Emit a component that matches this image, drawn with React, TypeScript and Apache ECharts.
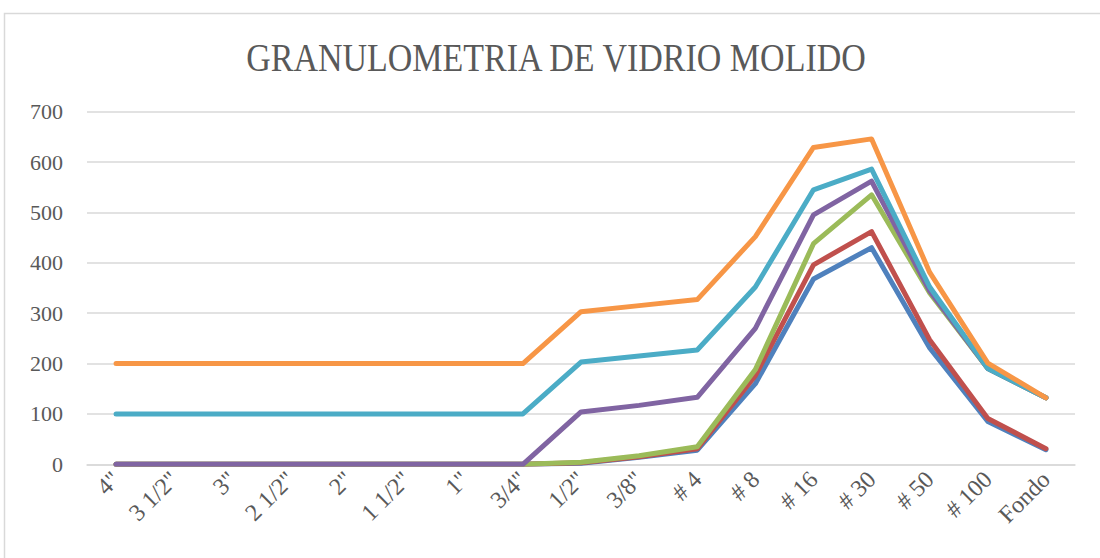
import React, { useEffect, useRef } from "react";
import * as echarts from "echarts";

const categories = ['4"', '3 1/2"', '3"', '2 1/2"', '2"', '1 1/2"', '1"', '3/4"', '1/2"', '3/8"', '# 4', '# 8', '# 16', '# 30', '# 50', '# 100', 'Fondo'];

const serie1 = [0, 0, 0, 0, 0, 0, 0, 0, 2, 14, 28, 160, 368, 430, 231, 85, 29];
const serie2 = [0, 0, 0, 0, 0, 0, 0, 0, 3, 15, 31, 176, 396, 462, 247, 91, 31];
const serie3 = [0, 0, 0, 0, 0, 0, 0, 0, 4, 17, 35, 188, 438, 535, 340, 190, 132];
const serie4 = [0, 0, 0, 0, 0, 0, 0, 0, 104, 117, 133, 270, 495, 562, 344, 190, 132];
const serie5 = [100, 100, 100, 100, 100, 100, 100, 100, 203, 215, 227, 352, 545, 586, 352, 190, 132];
const serie6 = [200, 200, 200, 200, 200, 200, 200, 200, 303, 315, 327, 452, 629, 646, 381, 201, 132];

const seriesNames = ["Serie 1", "Serie 2", "Serie 3", "Serie 4", "Serie 5", "Serie 6"];
const seriesData = [serie1, serie2, serie3, serie4, serie5, serie6];
const colors = ["#4F81BD", "#C0504D", "#9BBB59", "#8064A2", "#4BACC6", "#F79646"];

const yTicks = { min: 0, max: 700, interval: 100 };
const titleText = "GRANULOMETRIA DE VIDRIO MOLIDO";

export default function App() {
  const ref = useRef<HTMLDivElement>(null);
  useEffect(() => {
    if (!ref.current) return;
    const chart = echarts.init(ref.current, null, { renderer: "svg" });
    const font = "Liberation Serif";
    chart.setOption({
      animation: false,
      backgroundColor: "#ffffff",
      graphic: [
        {
          type: "rect",
          z: -10,
          shape: { x: 4.5, y: 13.5, width: 1200, height: 700 },
          style: { fill: "none", stroke: "#d9d9d9", lineWidth: 1.5 },
        },
        {
          type: "text",
          x: 556,
          y: 58,
          scaleX: 0.85,
          style: {
            text: titleText,
            fontFamily: font,
            fontSize: 40,
            fill: "#595959",
            textAlign: "center",
            textVerticalAlign: "middle",
          },
        },
      ],
      grid: { left: 87, right: 25, top: 111.7, bottom: 93.7, containLabel: false },
      xAxis: {
        type: "category",
        data: categories,
        boundaryGap: true,
        axisLine: { show: true, lineStyle: { color: "#d9d9d9", width: 1.5 } },
        axisTick: { show: false },
        axisLabel: {
          rotate: 45,
          margin: 11,
          interval: 0,
          fontFamily: font,
          fontSize: 24,
          color: "#595959",
        },
      },
      yAxis: {
        type: "value",
        min: yTicks.min,
        max: yTicks.max,
        interval: yTicks.interval,
        axisLine: { show: false },
        axisTick: { show: false },
        axisLabel: { margin: 24, fontFamily: font, fontSize: 22, color: "#595959" },
        splitLine: { lineStyle: { color: "#d9d9d9", width: 1.5 } },
      },
      series: seriesData.map((d, i) => ({
        name: seriesNames[i],
        type: "line",
        data: d,
        symbol: "none",
        color: colors[i],
        lineStyle: { width: 5, color: colors[i], cap: "round", join: "round" },
      })),
    });
    return () => chart.dispose();
  }, []);
  return (
    <div
      ref={ref}
      style={{ position: "fixed", left: 0, top: 0, width: 1100, height: 558 }}
    />
  );
}
